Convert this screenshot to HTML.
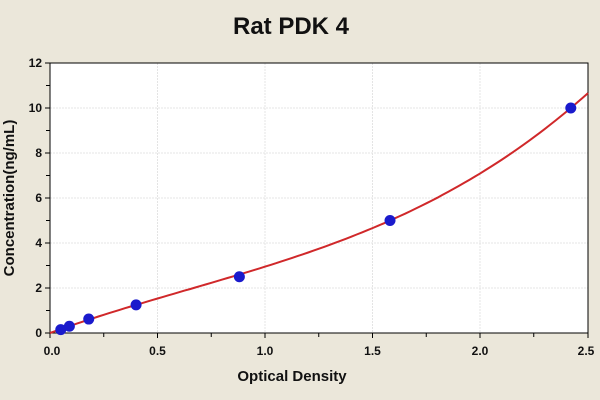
<!DOCTYPE html>
<html><head><style>
body{margin:0;background:#ebe7da;}
svg{display:block;font-family:"Liberation Sans",Arial,sans-serif;}
</style></head><body>
<svg id="s" width="600" height="400" xmlns="http://www.w3.org/2000/svg">
<rect width="600" height="400" fill="#ebe7da"/>
<rect x="50" y="63" width="538" height="270" fill="#fff"/>
<g stroke="#e4e4e4" stroke-width="1" stroke-dasharray="2,1">
<line x1="157.5" y1="63" x2="157.5" y2="333"/><line x1="265" y1="63" x2="265" y2="333"/>
<line x1="372.5" y1="63" x2="372.5" y2="333"/><line x1="480" y1="63" x2="480" y2="333"/>
<line x1="50" y1="288" x2="588" y2="288"/><line x1="50" y1="243" x2="588" y2="243"/>
<line x1="50" y1="198" x2="588" y2="198"/><line x1="50" y1="153" x2="588" y2="153"/>
<line x1="50" y1="108" x2="588" y2="108"/>
</g>
<rect x="50" y="63" width="538" height="270" fill="none" stroke="#000" stroke-width="1"/>
<g stroke="#000" stroke-width="1">
<line x1="45" y1="63" x2="50" y2="63"/><line x1="46" y1="85.5" x2="50" y2="85.5"/>
<line x1="45" y1="108" x2="50" y2="108"/><line x1="46" y1="130.5" x2="50" y2="130.5"/>
<line x1="45" y1="153" x2="50" y2="153"/><line x1="46" y1="175.5" x2="50" y2="175.5"/>
<line x1="45" y1="198" x2="50" y2="198"/><line x1="46" y1="220.5" x2="50" y2="220.5"/>
<line x1="45" y1="243" x2="50" y2="243"/><line x1="46" y1="265.5" x2="50" y2="265.5"/>
<line x1="45" y1="288" x2="50" y2="288"/><line x1="46" y1="310.5" x2="50" y2="310.5"/>
<line x1="45" y1="333" x2="50" y2="333"/>
<line x1="50" y1="333" x2="50" y2="338"/><line x1="103.75" y1="333" x2="103.75" y2="337"/>
<line x1="157.5" y1="333" x2="157.5" y2="338"/><line x1="211.25" y1="333" x2="211.25" y2="337"/>
<line x1="265" y1="333" x2="265" y2="338"/><line x1="318.75" y1="333" x2="318.75" y2="337"/>
<line x1="372.5" y1="333" x2="372.5" y2="338"/><line x1="426.25" y1="333" x2="426.25" y2="337"/>
<line x1="480" y1="333" x2="480" y2="338"/><line x1="533.75" y1="333" x2="533.75" y2="337"/>
<line x1="588" y1="333" x2="588" y2="338"/>
</g>
<g font-size="12" font-weight="bold" text-anchor="end" fill="#111">
<text x="42" y="67">12</text><text x="42" y="112">10</text><text x="42" y="157">8</text>
<text x="42" y="202">6</text><text x="42" y="247">4</text><text x="42" y="292">2</text><text x="42" y="337">0</text>
</g>
<g font-size="12" font-weight="bold" text-anchor="middle" fill="#111">
<text x="52" y="355">0.0</text><text x="157.5" y="355">0.5</text><text x="265" y="355">1.0</text>
<text x="372.5" y="355">1.5</text><text x="480" y="355">2.0</text><text x="586" y="355">2.5</text>
</g>
<text x="291" y="34" font-size="24" font-weight="bold" text-anchor="middle" fill="#111">Rat PDK 4</text>
<text x="292" y="381" font-size="15" font-weight="bold" text-anchor="middle" fill="#111">Optical Density</text>
<text transform="translate(14,198) rotate(-90)" font-size="15" font-weight="bold" text-anchor="middle" fill="#111">Concentration(ng/mL)</text>
<path id="c" fill="none" stroke="#d0282a" stroke-width="2"/>
<g id="p" fill="#1a1acc"></g>
</svg>
<script>
var d="";for(var i=0;i<=100;i++){var x=i*0.025;var y=3.462*x-1.064*x*x+0.554*x*x*x;d+=(i?"L":"M")+(50+x*215.2).toFixed(1)+","+(333-y*22.5).toFixed(1);}
document.getElementById("c").setAttribute("d",d);
var pts=[[0.05,0.15],[0.09,0.3],[0.18,0.62],[0.4,1.25],[0.88,2.5],[1.58,5],[2.42,10]];
var g=document.getElementById("p");
pts.forEach(function(p){var c=document.createElementNS("http://www.w3.org/2000/svg","circle");c.setAttribute("cx",50+p[0]*215.2);c.setAttribute("cy",333-p[1]*22.5);c.setAttribute("r",5.5);g.appendChild(c);});
</script>
</body></html>
